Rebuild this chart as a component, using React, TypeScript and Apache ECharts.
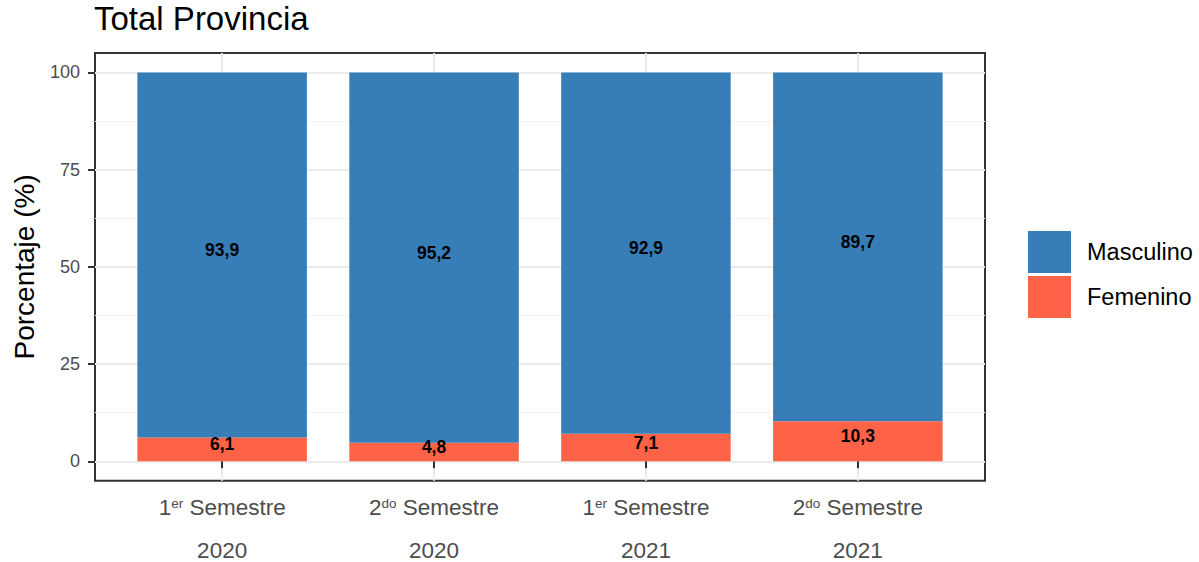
import React, { useEffect, useRef } from "react";
import * as echarts from "echarts";

const periods = ["1", "2", "1", "2"];
const periodSup = ["er", "do", "er", "do"];
const years = ["2020", "2020", "2021", "2021"];
const masculino = [93.9, 95.2, 92.9, 89.7];
const femenino = [6.1, 4.8, 7.1, 10.3];
const yTicks = [0, 25, 50, 75, 100];
const yMinorTicks = [12.5, 37.5, 62.5, 87.5];
const xPositions = [1, 2, 3, 4];

const FONT = "'Liberation Sans', Arial, sans-serif";

export default function App() {
  const ref = useRef<HTMLDivElement>(null);
  useEffect(() => {
    document.body.style.margin = "0";
    const chart = echarts.init(ref.current!, null, { renderer: "svg" });
    const fmt = (v: number) => v.toFixed(1).replace(".", ",");
    const labelCfg = {
      show: true,
      position: "inside",
      offset: [0, -5],
      color: "#000",
      fontWeight: "bold",
      fontSize: 17.5,
      fontFamily: FONT,
      formatter: (p: any) => fmt(p.value[0]),
    };
    chart.setOption({
      animation: false,
      backgroundColor: "#fff",
      textStyle: { fontFamily: FONT },
      title: {
        text: "Total Provincia",
        left: 94,
        top: 2,
        padding: 0,
        textStyle: { fontSize: 33, fontWeight: "normal", color: "#000", fontFamily: FONT },
      },
      legend: {
        orient: "vertical",
        left: 1028,
        top: 231,
        padding: 0,
        itemWidth: 43,
        itemHeight: 42,
        itemGap: 3,
        icon: "rect",
        data: ["Masculino", "Femenino"],
        textStyle: { fontSize: 23.5, color: "#000", fontFamily: FONT, padding: [0, 0, 0, 11] },
      },
      grid: {
        left: 95,
        top: 53,
        width: 890,
        height: 428,
        show: true,
        borderColor: "#333",
        borderWidth: 2,
        backgroundColor: "#fff",
      },
      xAxis: {
        type: "value",
        min: 0.4,
        max: 4.6,
        axisLine: { show: false },
        axisTick: {
          show: true,
          length: 7,
          lineStyle: { color: "#333", width: 2 },
          customValues: xPositions,
        },
        splitLine: { show: true, lineStyle: { color: "#EBEBEB", width: 2 } },
        axisLabel: {
          customValues: xPositions,
          margin: 16,
          lineHeight: 21.5,
          color: "#4D4D4D",
          fontSize: 22.5,
          formatter: (v: number) => {
            const i = Math.round(v) - 1;
            return `{n|${periods[i]}}{s|${periodSup[i]}}{n| Semestre}\n{n| }\n{n|${years[i]}}`;
          },
          rich: {
            n: { fontSize: 22.5, color: "#4D4D4D", lineHeight: 21.5, fontFamily: FONT },
            s: { fontSize: 13.5, color: "#4D4D4D", lineHeight: 21.5, verticalAlign: "top", padding: [0, 0, 4, 0], fontFamily: FONT },
          },
        },
      },
      yAxis: [
        {
          type: "value",
          min: -5,
          max: 105,
          name: "Porcentaje (%)",
          nameLocation: "middle",
          nameGap: 57,
          nameTextStyle: { fontSize: 28, color: "#000", fontFamily: FONT },
          axisLine: { show: false },
          axisTick: {
            show: true,
            length: 7,
            lineStyle: { color: "#333", width: 2 },
            customValues: yTicks,
          },
          axisLabel: {
            customValues: yTicks,
            margin: 15,
            color: "#4D4D4D",
            fontSize: 18,
            fontFamily: FONT,
          },
          splitLine: { show: true, lineStyle: { color: "#EBEBEB", width: 2 } },
        },
        {
          type: "value",
          min: -5,
          max: 105,
          position: "left",
          axisLine: { show: false },
          axisTick: { show: false, customValues: yMinorTicks },
          axisLabel: { show: false, customValues: yMinorTicks },
          splitLine: { show: true, lineStyle: { color: "#F2F2F2", width: 1 } },
        },
      ],
      series: [
        {
          name: "Femenino",
          type: "bar",
          stack: "total",
          barWidth: 169.5,
          itemStyle: { color: "#FF6347" },
          label: labelCfg,
          encode: { x: 1, y: 0 },
          data: femenino.map((v, i) => [v, xPositions[i]]),
        },
        {
          name: "Masculino",
          type: "bar",
          stack: "total",
          barWidth: 169.5,
          itemStyle: { color: "#377EB8" },
          label: labelCfg,
          encode: { x: 1, y: 0 },
          data: masculino.map((v, i) => [v, xPositions[i]]),
        },
      ],
    });
    return () => chart.dispose();
  }, []);
  return <div ref={ref} style={{ width: 1199, height: 562 }} />;
}
